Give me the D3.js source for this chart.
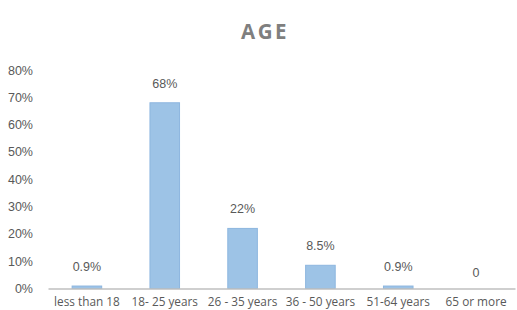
<!DOCTYPE html>
<html>
<head>
<meta charset="utf-8">
<script src="https://cdn.jsdelivr.net/npm/d3@7"></script>
<style>
  body { margin: 0; background: #fff; }
  svg { display: block; }
</style>
</head>
<body>
<div id="chart"></div>
<script>
// Age groups and their share of respondents
const categories = ["less than 18", "18- 25 years", "26 - 35 years", "36 - 50 years", "51-64 years", "65 or more"];
const values = [0.9, 68, 22, 8.5, 0.9, 0];
const valueLabels = ["0.9%", "68%", "22%", "8.5%", "0.9%", "0"];
const yTicks = [0, 10, 20, 30, 40, 50, 60, 70, 80];

const width = 517, height = 310,
  margin = ({top: 70, right: 2, bottom: 21.5, left: 48});

const svg = d3.select("#chart")
  .append("svg")
  .attr("width", width)
  .attr("height", height);

svg.append("text")
  .attr("x", 265)
  .attr("y", 38.5)
  .attr("text-anchor", "middle")
  .attr("font-family", "Open Sans, sans-serif")
  .attr("font-weight", "bold")
  .attr("font-size", 20.5)
  .attr("letter-spacing", 2.5)
  .attr("fill", "#7f7f7f")
  .text("AGE");

const x = d3.scaleBand()
  .domain(categories)
  .range([margin.left, width - margin.right])
  .paddingInner(0.62)
  .paddingOuter(0.31);

const y = d3.scaleLinear()
  .domain([0, 80])
  .range([height - margin.bottom, margin.top]);

// y axis labels, no line
const yAxis = svg.append("g")
  .attr("transform", `translate(${margin.left - 12},0)`)
  .call(d3.axisLeft(y).tickValues(yTicks).tickSize(0).tickFormat(d => d + "%"));
yAxis.select(".domain").remove();
yAxis.selectAll("text")
  .attr("font-family", "Liberation Sans, Arial, sans-serif")
  .attr("font-size", 12.5)
  .attr("fill", "#595959")
  .attr("dx", 0);

// bars
svg.append("g")
  .selectAll("rect")
  .data(values)
  .join("rect")
    .attr("x", (d, i) => x(categories[i]))
    .attr("y", d => y(d))
    .attr("width", x.bandwidth())
    .attr("height", d => y(0) - y(d))
    .attr("fill", "#9dc3e6")
    .attr("stroke", "#8db6df")
    .attr("stroke-width", 1);

// x axis
const xAxis = svg.append("g")
  .attr("transform", `translate(0,${y(0)})`)
  .call(d3.axisBottom(x).tickSize(0).tickSizeOuter(0));
xAxis.select(".domain")
  .attr("stroke", "#bfbfbf")
  .attr("stroke-width", 1.5);
xAxis.selectAll("text")
  .attr("font-family", "Open Sans, sans-serif")
  .attr("font-size", 11.8)
  .attr("fill", "#595959")
  .attr("y", 9)
  .attr("dy", "0.71em");

// value labels
svg.append("g")
  .selectAll("text")
  .data(values)
  .join("text")
    .attr("x", (d, i) => x(categories[i]) + x.bandwidth() / 2)
    .attr("y", d => y(d) - (d === 0 ? 12 : 15))
    .attr("text-anchor", "middle")
    .attr("font-family", "Liberation Sans, Arial, sans-serif")
    .attr("font-size", 12.5)
    .attr("fill", "#595959")
    .text((d, i) => valueLabels[i]);
</script>
</body>
</html>
